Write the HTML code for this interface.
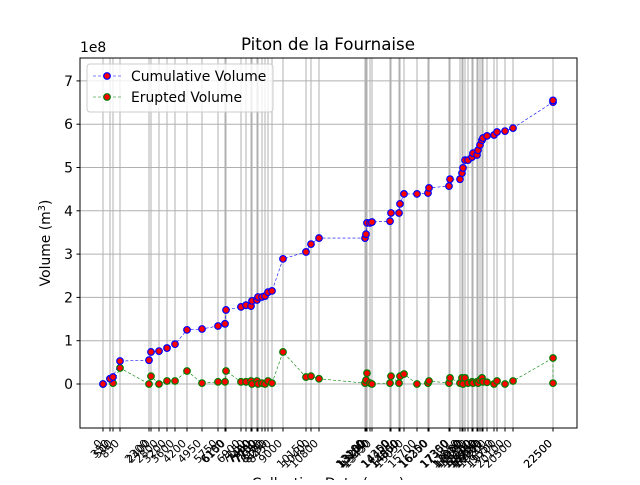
<!DOCTYPE html>
<html><head><meta charset="utf-8"><style>
body{margin:0;background:#fff;}
svg{font-family:"DejaVu Sans","Liberation Sans",sans-serif;}
</style></head><body>
<svg id="chart" width="640" height="480" xmlns="http://www.w3.org/2000/svg">
<rect width="640" height="480" fill="#fff"/>
<g id="grid"></g>
<g id="series"></g>
<rect x="80" y="58" width="497" height="370" fill="none" stroke="#000" stroke-width="1"/>
<g id="axes"></g>
<text x="328" y="50" font-size="16.7" text-anchor="middle">Piton de la Fournaise</text>
<text x="80" y="52" font-size="13.9">1e8</text>
<text transform="translate(50,243) rotate(-90)" font-size="13.9" text-anchor="middle">Volume (m<tspan font-size="9.7" dy="-5">3</tspan><tspan dy="5">)</tspan></text>
<text x="328" y="488" font-size="13.9" text-anchor="middle">Collection Date (year)</text>
<g>
<rect x="87" y="64" width="186" height="48" rx="3" fill="#fff" fill-opacity="0.8" stroke="#ccc"/>
<g>
<line x1="93" y1="76" x2="121" y2="76" stroke="#00f" stroke-width="0.6" stroke-dasharray="3,2"/>
<circle cx="107" cy="76" r="3.3" fill="red" stroke="#00f" stroke-width="1.2"/>
<text x="131" y="81" font-size="13.9">Cumulative Volume</text></g>
<g>
<line x1="93" y1="97" x2="121" y2="97" stroke="green" stroke-width="0.6" stroke-dasharray="3,2"/>
<circle cx="107" cy="97" r="3.3" fill="red" stroke="green" stroke-width="1.2"/>
<text x="131" y="102" font-size="13.9">Erupted Volume</text></g>
</g>
</svg>
<script>
const years=[0,350,500,850,2300,2400,2800,3200,3600,4200,4950,5750,6100,6150,6900,7150,7400,7450,7700,7750,7950,8100,8250,8450,9000,10150,10400,10800,13100,13150,13200,13350,13450,14350,14400,14800,14850,15050,15700,16250,16300,17300,17350,17850,17950,18000,18100,18250,18450,18500,18700,18750,18850,18950,19000,19200,19550,19700,20100,20500,22500,22500];
const cumulative=[0,12,16,53,55,74,76,83,92,125,127,134,139,171,178,182,180,192,194,201,201,203,212,215,289,305,323,337,337,346,372,372,374,376,395,395,416,439,439,441,453,457,473,473,487,499,517,517,524,533,529,540,552,563,568,573,575,582,584,591,651,655];
const erupted=[0,12,2,37,0,18,0,7,7,30,2,5,5,30,5,5,7,0,7,0,2,0,7,2,74,16,18,12,2,9,25,2,0,2,18,2,18,23,0,2,7,2,14,2,14,0,14,2,5,2,5,2,9,14,5,4,0,7,0,7,60,2];
const yTicks=[0,1,2,3,4,5,6,7];
const NS="http://www.w3.org/2000/svg";
function xs(v){return 103+v*0.02;}
function ys(v){return 384-v/100*43.3;}
function mk(t,a,p){const e=document.createElementNS(NS,t);for(const k in a)e.setAttribute(k,a[k]);p.appendChild(e);return e;}
const grid=document.getElementById('grid'),axes=document.getElementById('axes'),series=document.getElementById('series');
yTicks.forEach(t=>{const y=ys(t*100);
const g=mk('line',{x1:80,x2:577,y1:y,y2:y,stroke:'#b0b0b0','stroke-width':1},grid);


mk('line',{x1:76.5,x2:80,y1:y,y2:y,stroke:'#000'},axes);
const l=mk('text',{x:73,y:y+5,'font-size':13.9,'text-anchor':'end'},axes);l.textContent=t;

});
years.forEach(v=>{const x=xs(v);
const g=mk('line',{x1:x,x2:x,y1:58,y2:428,stroke:'#b0b0b0','stroke-width':1},grid);


mk('line',{x1:x,x2:x,y1:428,y2:431.5,stroke:'#000'},axes);
const l=mk('text',{transform:`translate(${x},${444}) rotate(-45)`,'font-size':11,'text-anchor':'end'},axes);l.textContent=v;

});
function draw(vals,col,name){
const pts=years.map((v,i)=>xs(v)+','+ys(vals[i])).join(' ');
const pl=mk('polyline',{points:pts,fill:'none',stroke:col,'stroke-width':0.6,'stroke-dasharray':'3,2'},series);


years.forEach((v,i)=>{const c=mk('circle',{cx:xs(v),cy:ys(vals[i]),r:3.3,fill:'red',stroke:col,'stroke-width':1.2},series);

});}
draw(erupted,'green','erupted');
draw(cumulative,'#00f','cumulative');
</script>
</body></html>
